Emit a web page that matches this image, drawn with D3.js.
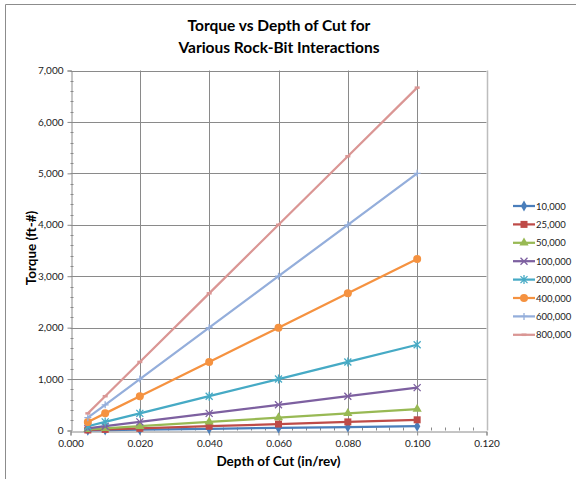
<!DOCTYPE html>
<html><head><meta charset="utf-8">
<script src="https://cdn.jsdelivr.net/npm/d3@7"></script>
<style>
html,body{margin:0;padding:0;background:#fff;}
svg{display:block;font-family:Lato,"Open Sans",sans-serif;}
</style></head>
<body>
<script>
const depths = [0.005, 0.01, 0.02, 0.04, 0.06, 0.08, 0.1];
const seriesNames = ["10,000","25,000","50,000","100,000","200,000","400,000","600,000","800,000"];
const s10000  = [4, 8, 17, 33, 50, 67, 83];
const s25000  = [10, 21, 42, 83, 125, 167, 208];
const s50000  = [21, 42, 83, 167, 250, 333, 417];
const s100000 = [42, 83, 167, 333, 500, 667, 833];
const s200000 = [83, 167, 333, 667, 1000, 1333, 1667];
const s400000 = [167, 333, 667, 1333, 2000, 2667, 3333];
const s600000 = [250, 500, 1000, 2000, 3000, 4000, 5000];
const s800000 = [333, 667, 1333, 2667, 4000, 5333, 6667];
const seriesValues = [s10000,s25000,s50000,s100000,s200000,s400000,s600000,s800000];
const colors = ["#4A7EBB","#BE4B48","#98B954","#7D60A0","#46AAC5","#F59240","#94AEDB","#DA9694"];
const markers = ["diamond","square","triangle","x","star","circle","plus","dash"];
const xTicks = [0, 0.02, 0.04, 0.06, 0.08, 0.1, 0.12];
const yTicks = [0,1000,2000,3000,4000,5000,6000,7000];

const W=576,H=479;
const svg=d3.select("body").append("svg").attr("width",W).attr("height",H);
svg.append("rect").attr("x",0).attr("y",0).attr("width",W).attr("height",H).attr("fill","#fff");
// outer frame
svg.append("path").attr("d","M5.5,479 L5.5,4.5 L576,4.5").attr("fill","none").attr("stroke","#8c8c8c").attr("stroke-width",1);

const x=d3.scaleLinear().domain([0,0.12]).range([70.5,486.5]);
const y=d3.scaleLinear().domain([0,7000]).range([430.5,70.5]);

// title
const title=svg.append("text").attr("text-anchor","middle").attr("font-weight","bold").attr("font-size",15.5).attr("fill","#000");
title.append("tspan").attr("x",279).attr("y",31).text("Torque vs Depth of Cut for");
title.append("tspan").attr("x",279).attr("y",53).text("Various Rock-Bit Interactions");

// gridlines
const g=svg.append("g");
g.selectAll(".hg").data(yTicks.slice(1)).enter().append("line")
 .attr("x1",x(0)).attr("x2",x(0.12)).attr("y1",d=>Math.round(y(d))+0.5).attr("y2",d=>Math.round(y(d))+0.5)
 .attr("stroke","#8a8a8a").attr("stroke-width",1);
g.selectAll(".vg").data(xTicks.slice(1,-1)).enter().append("line")
 .attr("y1",y(0)).attr("y2",y(7000)).attr("x1",d=>Math.round(x(d))+0.5).attr("x2",d=>Math.round(x(d))+0.5)
 .attr("stroke","#8a8a8a").attr("stroke-width",1);
// plot area border right
g.append("line").attr("x1",Math.round(x(0.12))+0.5).attr("x2",Math.round(x(0.12))+0.5).attr("y1",y(0)).attr("y2",y(7000)).attr("stroke","#bdbdbd").attr("stroke-width",1.5);

// axes
const yAxis=d3.axisLeft(y).tickValues(yTicks).tickFormat(d3.format(",")).tickSize(4).tickPadding(4);
const ya=svg.append("g").attr("transform",`translate(${Math.round(x(0))+0.5},0)`).call(yAxis);
ya.selectAll("text").attr("font-size",10).attr("fill","#222").attr("font-family","Lato,sans-serif");
ya.selectAll("line").attr("stroke","#8a8a8a");
ya.select(".domain").attr("stroke","#8a8a8a");
// minor y ticks (inside)
const yMinor=d3.range(0,7001,200).filter(v=>v%1000!==0);
svg.append("g").selectAll("line").data(yMinor).enter().append("line")
 .attr("x1",x(0)).attr("x2",x(0)+3).attr("y1",d=>Math.round(y(d))+0.5).attr("y2",d=>Math.round(y(d))+0.5).attr("stroke","#8a8a8a");

const xAxis=d3.axisBottom(x).tickValues(xTicks).tickFormat(d3.format(".3f")).tickSize(4).tickPadding(4);
const xa=svg.append("g").attr("transform",`translate(0,${Math.round(y(0))+0.5})`).call(xAxis);
xa.selectAll("text").attr("font-size",10).attr("fill","#222").attr("font-family","Lato,sans-serif");
xa.selectAll("line").attr("stroke","#8a8a8a");
xa.select(".domain").attr("stroke","#8a8a8a");
const xMinor=d3.range(0,31).map(i=>i*0.004).filter(v=>Math.abs(v/0.02-Math.round(v/0.02))>1e-6);
svg.append("g").selectAll("line").data(xMinor).enter().append("line")
 .attr("y1",y(0)).attr("y2",y(0)-3).attr("x1",d=>Math.round(x(d))+0.5).attr("x2",d=>Math.round(x(d))+0.5).attr("stroke","#8a8a8a");

// axis titles
svg.append("text").attr("x",278.5).attr("y",466).attr("text-anchor","middle").attr("font-weight","bold").attr("font-size",13.5).text("Depth of Cut (in/rev)");
svg.append("text").attr("transform","translate(36,248) rotate(-90)").attr("text-anchor","middle").attr("font-weight","bold").attr("font-size",13.5).text("Torque (ft-#)");

function drawMarker(sel,type,color,sz){
  const s=sz;
  if(type==="diamond") sel.append("path").attr("d",d3.symbol(d3.symbolDiamond,s*s*0.7)()).attr("fill",color);
  else if(type==="square") sel.append("rect").attr("x",-s/2).attr("y",-s/2).attr("width",s).attr("height",s).attr("fill",color);
  else if(type==="triangle") sel.append("path").attr("d",d3.symbol(d3.symbolTriangle,s*s*0.75)()).attr("fill",color);
  else if(type==="circle") sel.append("circle").attr("r",s/2+0.5).attr("fill",color);
  else if(type==="x") sel.append("path").attr("d",`M${-s/2},${-s/2}L${s/2},${s/2}M${-s/2},${s/2}L${s/2},${-s/2}`).attr("stroke",color).attr("stroke-width",1.3).attr("fill","none");
  else if(type==="star") sel.append("path").attr("d",`M${-s/2},${-s/2}L${s/2},${s/2}M${-s/2},${s/2}L${s/2},${-s/2}M0,${-s/2-1}L0,${s/2+1}`).attr("stroke",color).attr("stroke-width",1.3).attr("fill","none");
  else if(type==="plus") sel.append("path").attr("d",`M${-s/2},0L${s/2},0M0,${-s/2}L0,${s/2}`).attr("stroke",color).attr("stroke-width",1.3).attr("fill","none");
  else if(type==="dash") sel.append("path").attr("d",`M${-s/2+1},0L${s/2-1},0`).attr("stroke",color).attr("stroke-width",2.5).attr("fill","none");
}

const line=d3.line().x(d=>x(d[0])).y(d=>y(d[1]));
seriesValues.forEach((vals,i)=>{
  const pts=depths.map((d,j)=>[d,vals[j]]);
  svg.append("path").datum(pts).attr("d",line).attr("fill","none").attr("stroke",colors[i]).attr("stroke-width",2.25).attr("stroke-linejoin","round");
  pts.forEach(p=>{
    const m=svg.append("g").attr("transform",`translate(${x(p[0])},${y(p[1])})`);
    drawMarker(m,markers[i],colors[i],7);
  });
});

// legend
const leg=svg.append("g");
seriesNames.forEach((n,i)=>{
  const ly=206+i*18.4;
  const gi=leg.append("g").attr("transform",`translate(0,${ly})`);
  gi.append("line").attr("x1",513).attr("x2",535).attr("y1",0).attr("y2",0).attr("stroke",colors[i]).attr("stroke-width",2.25);
  const m=gi.append("g").attr("transform","translate(524,0)");
  drawMarker(m,markers[i],colors[i],7);
  gi.append("text").attr("x",536).attr("y",3.5).attr("font-size",9.5).attr("fill","#222").text(n);
});
</script>
</body></html>
